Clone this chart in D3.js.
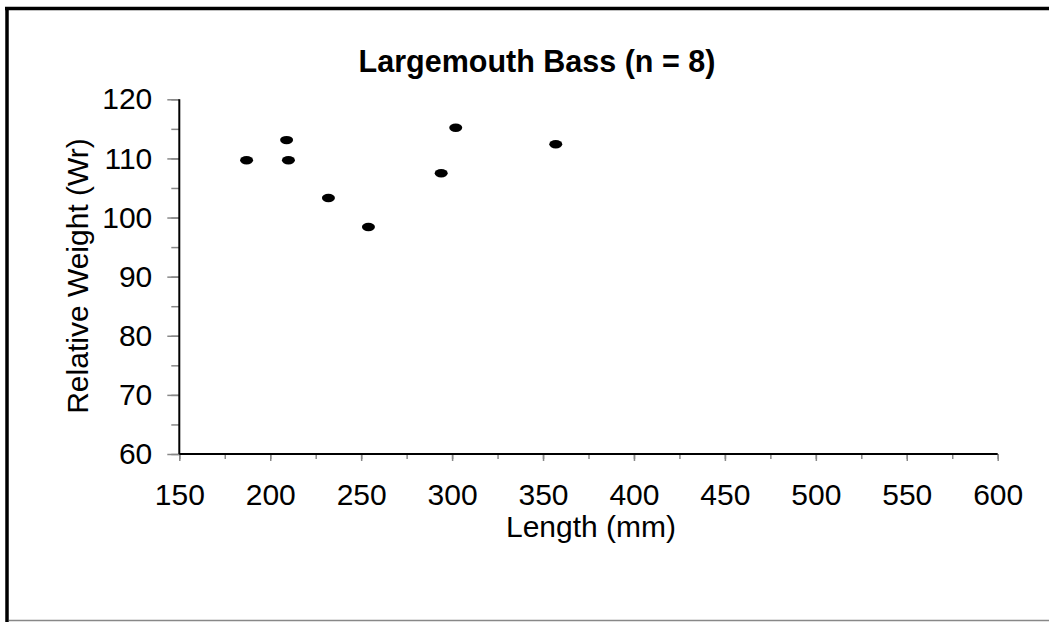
<!DOCTYPE html>
<html><head><meta charset="utf-8">
<script src="https://cdn.jsdelivr.net/npm/d3@7"></script>
<style>
html,body{margin:0;padding:0;background:#fff;}
svg{display:block;font-family:"Liberation Sans",Arial,sans-serif;}
</style></head>
<body>
<svg id="c" width="1049" height="622"></svg>
<script>
const lengths = [187, 209, 210, 232, 254, 294, 302, 357];
const weights = [109.7, 113.1, 109.7, 103.3, 98.4, 107.5, 115.2, 112.4];
const xTicks = [150, 200, 250, 300, 350, 400, 450, 500, 550, 600];
const yTicks = [60, 70, 80, 90, 100, 110, 120];
const titleText = "Largemouth Bass (n = 8)";
const xTitle = "Length (mm)";
const yTitle = "Relative Weight (Wr)";

const svg = d3.select("#c");
// frame
svg.append("rect").attr("x",0).attr("y",0).attr("width",1049).attr("height",622).attr("fill","#fff");
svg.append("line").attr("x1",5).attr("x2",1049).attr("y1",8.5).attr("y2",8.5).attr("stroke","#000").attr("stroke-width",3.5);
svg.append("line").attr("x1",7).attr("x2",7).attr("y1",7).attr("y2",622).attr("stroke","#000").attr("stroke-width",3.5);
svg.append("line").attr("x1",9).attr("x2",1049).attr("y1",620.5).attr("y2",620.5).attr("stroke","#888").attr("stroke-width",1.5);

const x = d3.scaleLinear().domain([150,600]).range([179.3,997.7]);
const y = d3.scaleLinear().domain([60,120]).range([454,99.3]);

const tickCol = "#888";
const fs = 30;
// minor ticks
const xMinor = d3.range(150, 601, 25);
const yMinor = d3.range(60, 121, 5);
svg.append("g").attr("transform","translate(0,454)")
  .call(d3.axisBottom(x).tickValues(xMinor).tickSize(5).tickFormat(""))
  .call(g=>{g.select(".domain").remove(); g.selectAll("line").attr("stroke",tickCol).attr("stroke-width",1.5);});
svg.append("g").attr("transform","translate(179.3,0)")
  .call(d3.axisLeft(y).tickValues(yMinor).tickSize(8).tickFormat(""))
  .call(g=>{g.select(".domain").remove(); g.selectAll("line").attr("stroke",tickCol).attr("stroke-width",1.5);});
// major ticks with labels
svg.append("g").attr("transform","translate(0,454)")
  .call(d3.axisBottom(x).tickValues(xTicks).tickSize(7).tickPadding(22.7).tickFormat(d3.format("d")))
  .call(g=>{g.select(".domain").remove(); g.selectAll("line").attr("stroke",tickCol).attr("stroke-width",1.5);
    g.selectAll("text").attr("font-size",fs).attr("fill","#000").attr("font-family","Liberation Sans, Arial, sans-serif");});
svg.append("g").attr("transform","translate(179.3,0)")
  .call(d3.axisLeft(y).tickValues(yTicks).tickSize(12).tickPadding(15).tickFormat(d3.format("d")))
  .call(g=>{g.select(".domain").remove(); g.selectAll("line").attr("stroke",tickCol).attr("stroke-width",1.5);
    g.selectAll("text").attr("font-size",fs).attr("fill","#000").attr("font-family","Liberation Sans, Arial, sans-serif");});
// axis lines
svg.append("line").attr("x1",179.3).attr("x2",179.3).attr("y1",y(120)).attr("y2",454).attr("stroke","#000").attr("stroke-width",2);
svg.append("line").attr("x1",179.3).attr("x2",997.7).attr("y1",454).attr("y2",454).attr("stroke","#000").attr("stroke-width",2);

// points
svg.append("g").selectAll("ellipse").data(lengths.map((l,i)=>({l,w:weights[i]}))).join("ellipse")
  .attr("cx",d=>x(d.l)).attr("cy",d=>y(d.w)).attr("rx",6.5).attr("ry",4.2).attr("fill","#000");

// titles
svg.append("text").attr("x",537).attr("y",72).attr("text-anchor","middle").attr("font-size",30.5).attr("font-weight","bold").text(titleText);
svg.append("text").attr("x",591).attr("y",537).attr("text-anchor","middle").attr("font-size",fs).text(xTitle);
svg.append("text").attr("transform","translate(88,276) rotate(-90)").attr("text-anchor","middle").attr("font-size",fs).text(yTitle);
</script>
</body></html>
